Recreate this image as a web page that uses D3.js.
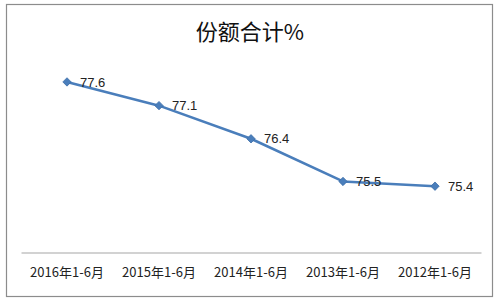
<!DOCTYPE html>
<html>
<head>
<meta charset="utf-8">
<script src="https://cdn.jsdelivr.net/npm/d3@7"></script>
<style>
  body { margin: 0; background: #fff; }
  svg { display: block; font-family: "Noto Sans CJK SC", "Liberation Sans", sans-serif; }
</style>
</head>
<body>
<svg id="chart" width="500" height="300"></svg>
<script>
// chart data
const categories = ["2016年1-6月", "2015年1-6月", "2014年1-6月", "2013年1-6月", "2012年1-6月"];
const values = [77.6, 77.1, 76.4, 75.5, 75.4];
const titleText = "份额合计%";

const svg = d3.select("#chart");

// outer frame
svg.append("rect")
  .attr("x", 6.5)
  .attr("y", 4.5)
  .attr("width", 486)
  .attr("height", 292)
  .attr("fill", "#fff")
  .attr("stroke", "#8c8c8c")
  .attr("stroke-width", 1.2);

// title
svg.append("text")
  .attr("x", 250)
  .attr("y", 40)
  .attr("text-anchor", "middle")
  .attr("font-size", 22)
  .attr("fill", "#111")
  .text(titleText);

// scales
const x = d3.scaleBand()
  .domain(categories)
  .range([21, 481]);

const y = d3.scaleLinear()
  .domain([74, 78])
  .range([252.5, 63]);

// x axis
const xAxisG = svg.append("g")
  .attr("transform", `translate(0,${y(74)})`)
  .call(d3.axisBottom(x).tickSize(0).tickPadding(15));

xAxisG.select(".domain").attr("stroke", "#a6a6a6").attr("stroke-width", 1.2);
xAxisG.selectAll("text")
  .attr("font-size", 13)
  .attr("fill", "#222")
  .style("font-family", "\"Noto Sans CJK SC\", sans-serif");

const cx = (d, i) => x(categories[i]) + x.bandwidth() / 2;

// line
const line = d3.line()
  .x((d, i) => cx(d, i))
  .y((d) => y(d));

svg.append("path")
  .datum(values)
  .attr("fill", "none")
  .attr("stroke", "#4a7ebb")
  .attr("stroke-width", 2.6)
  .attr("stroke-linejoin", "round")
  .attr("d", line);

// diamond markers
svg.selectAll("path.marker")
  .data(values)
  .join("path")
  .attr("class", "marker")
  .attr("d", d3.symbol().type(d3.symbolDiamond2).size(45))
  .attr("transform", (d, i) => `translate(${cx(d, i)},${y(d)})`)
  .attr("fill", "#4a7ebb")
  .attr("stroke", "#3d6ea8")
  .attr("stroke-width", 0.8);

// data labels
svg.selectAll("text.val")
  .data(values)
  .join("text")
  .attr("class", "val")
  .attr("x", (d, i) => cx(d, i) + 13)
  .attr("y", (d) => y(d))
  .attr("dy", "0.35em")
  .attr("font-size", 13)
  .attr("fill", "#222")
  .style("font-family", "\"Liberation Sans\", sans-serif")
  .text((d) => d.toFixed(1));
</script>
</body>
</html>
